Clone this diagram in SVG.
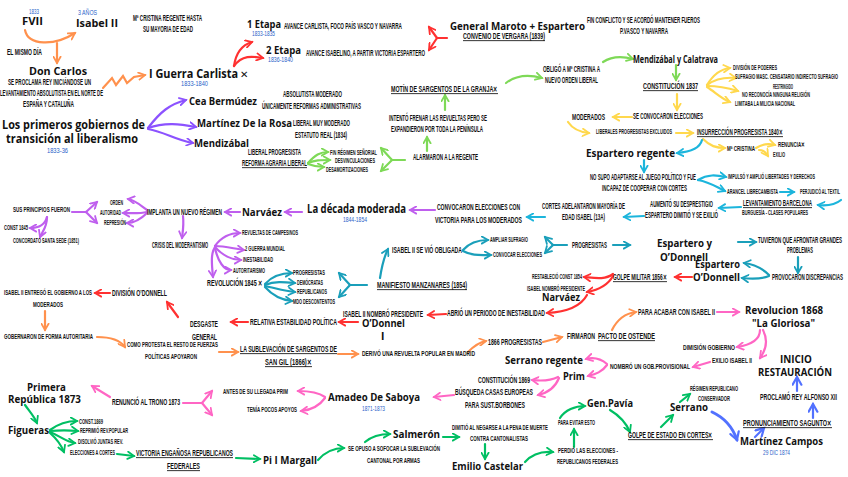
<svg xmlns="http://www.w3.org/2000/svg" width="848" height="477" viewBox="0 0 848 477">
<style>
text{font-family:"Liberation Sans",Arial,sans-serif;fill:#111}
.s{font-size:8.5px;font-weight:700}
.t{font-size:7px;font-weight:700}
.b{font-family:"Open Sans","DejaVu Sans",sans-serif;font-weight:700;font-size:11px}
.y{font-size:7px;fill:#2a62c9}
.u{text-decoration:underline}
.x{font-family:"DejaVu Sans",sans-serif;font-size:8px}
.c{fill:none;stroke-width:2.2;stroke-linecap:round}
.or{stroke:#ff914d}.pu{stroke:#8c52ff}.pl{stroke:#bf5fee}.rd{stroke:#ff3131}.gl{stroke:#7ed957}.gd{stroke:#00bf63}.ye{stroke:#ffd84d}.cy{stroke:#1cb5dc}.te{stroke:#1a9fba}.pk{stroke:#ff66c4}.bl{stroke:#5271ff}
</style>
<defs>
<marker id="mor" viewBox="0 0 10 10" refX="8" refY="5" markerWidth="9" markerHeight="9" markerUnits="userSpaceOnUse" orient="auto"><path d="M1,1 L8,5 L1,9" fill="none" stroke="#ff914d" stroke-width="2" stroke-linecap="round"/></marker>
<marker id="mpu" viewBox="0 0 10 10" refX="8" refY="5" markerWidth="9" markerHeight="9" markerUnits="userSpaceOnUse" orient="auto"><path d="M1,1 L8,5 L1,9" fill="none" stroke="#8c52ff" stroke-width="2" stroke-linecap="round"/></marker>
<marker id="mpl" viewBox="0 0 10 10" refX="8" refY="5" markerWidth="9" markerHeight="9" markerUnits="userSpaceOnUse" orient="auto"><path d="M1,1 L8,5 L1,9" fill="none" stroke="#bf5fee" stroke-width="2" stroke-linecap="round"/></marker>
<marker id="mrd" viewBox="0 0 10 10" refX="8" refY="5" markerWidth="9" markerHeight="9" markerUnits="userSpaceOnUse" orient="auto"><path d="M1,1 L8,5 L1,9" fill="none" stroke="#ff3131" stroke-width="2" stroke-linecap="round"/></marker>
<marker id="mgl" viewBox="0 0 10 10" refX="8" refY="5" markerWidth="9" markerHeight="9" markerUnits="userSpaceOnUse" orient="auto"><path d="M1,1 L8,5 L1,9" fill="none" stroke="#7ed957" stroke-width="2" stroke-linecap="round"/></marker>
<marker id="mgd" viewBox="0 0 10 10" refX="8" refY="5" markerWidth="9" markerHeight="9" markerUnits="userSpaceOnUse" orient="auto"><path d="M1,1 L8,5 L1,9" fill="none" stroke="#00bf63" stroke-width="2" stroke-linecap="round"/></marker>
<marker id="mye" viewBox="0 0 10 10" refX="8" refY="5" markerWidth="9" markerHeight="9" markerUnits="userSpaceOnUse" orient="auto"><path d="M1,1 L8,5 L1,9" fill="none" stroke="#ffd84d" stroke-width="2" stroke-linecap="round"/></marker>
<marker id="mcy" viewBox="0 0 10 10" refX="8" refY="5" markerWidth="9" markerHeight="9" markerUnits="userSpaceOnUse" orient="auto"><path d="M1,1 L8,5 L1,9" fill="none" stroke="#1cb5dc" stroke-width="2" stroke-linecap="round"/></marker>
<marker id="mte" viewBox="0 0 10 10" refX="8" refY="5" markerWidth="9" markerHeight="9" markerUnits="userSpaceOnUse" orient="auto"><path d="M1,1 L8,5 L1,9" fill="none" stroke="#1a9fba" stroke-width="2" stroke-linecap="round"/></marker>
<marker id="mpk" viewBox="0 0 10 10" refX="8" refY="5" markerWidth="9" markerHeight="9" markerUnits="userSpaceOnUse" orient="auto"><path d="M1,1 L8,5 L1,9" fill="none" stroke="#ff66c4" stroke-width="2" stroke-linecap="round"/></marker>
<marker id="mbl" viewBox="0 0 10 10" refX="8" refY="5" markerWidth="11" markerHeight="11" markerUnits="userSpaceOnUse" orient="auto"><path d="M1,1 L8,5 L1,9" fill="none" stroke="#5271ff" stroke-width="2" stroke-linecap="round"/></marker>
</defs>
<rect width="848" height="477" fill="#ffffff"/>

<g id="connectors">
<path class="c or" marker-end="url(#mor)" d="M25,30 C28,46 55,46 75,33"/>
<path class="c or" marker-end="url(#mor)" d="M57,43 L57,63"/>
<path class="c or" marker-end="url(#mor)" d="M103,88 L112,78 L116,85 L123,76 L127,83 L134,77 L145,75"/>
<path class="c or" marker-end="url(#mor)" d="M45,311 L45,330"/>
<path class="c or" marker-end="url(#mor)" d="M97,337 C110,337 120,340 125,347"/>
<path class="c or" marker-end="url(#mor)" d="M219,352 L238,352"/>
<path class="c or" marker-end="url(#mor)" d="M338,354 L358,354"/>
<path class="c or" marker-end="url(#mor)" d="M468,352 C475,345 480,342 486,341"/>
<path class="c or" marker-end="url(#mor)" d="M543,342 L562,337"/>
<path class="c or" marker-end="url(#mor)" d="M612,330 C618,318 628,313 636,312"/>
<path class="c pu" marker-end="url(#mpu)" d="M148,128 C160,112 170,104 186,100"/>
<path class="c pu" marker-end="url(#mpu)" d="M148,128 C165,122 180,124 196,127"/>
<path class="c pu" marker-end="url(#mpu)" d="M148,129 C165,132 175,140 193,143"/>
<path class="c pl" marker-end="url(#mpl)" d="M435,210 L410,210"/>
<path class="c pl" marker-end="url(#mpl)" d="M302,212 L285,212"/>
<path class="c pl" marker-end="url(#mpl)" d="M240,212 L225,212"/>
<path class="c pl" marker-end="url(#mpl)" d="M147,210 C140,205 135,200 128,199"/>
<path class="c pl" marker-end="url(#mpl)" d="M147,212 C138,214 130,213 123,213"/>
<path class="c pl" marker-end="url(#mpl)" d="M147,213 C140,220 134,223 127,223"/>
<path class="c pl" d="M72,212 L86,212"/>
<path class="c pl" marker-end="url(#mpl)" d="M86,212 L97,202"/>
<path class="c pl" marker-end="url(#mpl)" d="M86,212 L97,223"/>
<path class="c pl" marker-end="url(#mpl)" d="M47,217 C45,225 38,228 30,228"/>
<path class="c pl" marker-end="url(#mpl)" d="M47,217 C47,228 42,232 40,237"/>
<path class="c pl" marker-end="url(#mpl)" d="M183,216 C184,225 183,230 182,238"/>
<path class="c pl" marker-end="url(#mpl)" d="M215,246 C222,236 230,233 240,233"/>
<path class="c pl" marker-end="url(#mpl)" d="M215,246 C225,246 235,249 244,250"/>
<path class="c pl" marker-end="url(#mpl)" d="M215,247 C222,255 232,260 241,260"/>
<path class="c pl" marker-end="url(#mpl)" d="M215,248 C218,262 224,270 231,270"/>
<path class="c pl" marker-end="url(#mpl)" d="M216,246 C210,252 212,266 213,277"/>
<path class="c rd" marker-end="url(#mrd)" d="M234,66 C236,52 242,45 252,42"/>
<path class="c rd" marker-end="url(#mrd)" d="M234,66 C242,55 252,56 263,58"/>
<path class="c rd" d="M447,38 L437,38"/>
<path class="c rd" marker-end="url(#mrd)" d="M437,38 L429,27"/>
<path class="c rd" marker-end="url(#mrd)" d="M437,38 L429,50"/>
<path class="c rd" marker-end="url(#mrd)" d="M692,277 L675,277"/>
<path class="c rd" marker-end="url(#mrd)" d="M613,274 C605,280 595,278 584,277"/>
<path class="c rd" marker-end="url(#mrd)" d="M613,276 C608,285 598,290 587,292"/>
<path class="c rd" marker-end="url(#mrd)" d="M587,295 C580,308 565,312 547,313"/>
<path class="c rd" marker-end="url(#mrd)" d="M446,314 L428,315"/>
<path class="c rd" marker-end="url(#mrd)" d="M358,322 L339,322"/>
<path class="c rd" marker-end="url(#mrd)" d="M248,322 L231,322"/>
<path class="c rd" marker-end="url(#mrd)" d="M178,317 L167,302"/>
<path class="c rd" marker-end="url(#mrd)" d="M110,293 L95,293"/>
<path class="c gl" marker-end="url(#mgl)" d="M308,163 C315,155 320,152 328,152"/>
<path class="c gl" marker-end="url(#mgl)" d="M308,163 C315,160 320,160 330,160"/>
<path class="c gl" marker-end="url(#mgl)" d="M308,164 C313,166 318,167 324,167"/>
<path class="c gl" d="M405,160 L392,160"/>
<path class="c gl" marker-end="url(#mgl)" d="M392,160 L381,148"/>
<path class="c gl" marker-end="url(#mgl)" d="M392,160 L381,171"/>
<path class="c gl" marker-end="url(#mgl)" d="M427,151 L427,137"/>
<path class="c gl" marker-end="url(#mgl)" d="M445,110 L445,95"/>
<path class="c gl" marker-end="url(#mgl)" d="M506,83 C515,76 528,74 542,78"/>
<path class="c gl" marker-end="url(#mgl)" d="M603,62 C612,56 622,56 633,59"/>
<path class="c gl" marker-end="url(#mgl)" d="M676,65 L676,80"/>
<path class="c gd" marker-end="url(#mgd)" d="M25,405 C30,412 34,416 37,423"/>
<path class="c gd" marker-end="url(#mgd)" d="M50,430 C58,424 66,421 77,421"/>
<path class="c gd" marker-end="url(#mgd)" d="M50,431 C60,430 68,430 78,431"/>
<path class="c gd" marker-end="url(#mgd)" d="M50,432 C60,436 66,442 75,443"/>
<path class="c gd" marker-end="url(#mgd)" d="M50,433 C58,440 62,447 64,452"/>
<path class="c gd" marker-end="url(#mgd)" d="M117,454 L134,456"/>
<path class="c gd" marker-end="url(#mgd)" d="M236,458 L260,459"/>
<path class="c gd" marker-end="url(#mgd)" d="M318,460 C325,452 333,448 344,448"/>
<path class="c gd" marker-end="url(#mgd)" d="M365,442 C372,436 380,434 390,434"/>
<path class="c gd" marker-end="url(#mgd)" d="M443,437 L459,437"/>
<path class="c gd" marker-end="url(#mgd)" d="M485,444 L485,459"/>
<path class="c gd" marker-end="url(#mgd)" d="M525,462 C532,454 542,451 553,452"/>
<path class="c gd" marker-end="url(#mgd)" d="M574,447 L574,429"/>
<path class="c gd" marker-end="url(#mgd)" d="M560,418 C565,410 575,406 585,406"/>
<path class="c gd" marker-end="url(#mgd)" d="M610,410 C620,416 627,425 630,432"/>
<path class="c gd" marker-end="url(#mgd)" d="M661,427 L673,415"/>
<path class="c gd" marker-end="url(#mgd)" d="M680,402 L690,394"/>
<path class="c ye" marker-end="url(#mye)" d="M707,85 C713,75 720,69 730,68"/>
<path class="c ye" marker-end="url(#mye)" d="M707,85 C715,79 725,77 736,78"/>
<path class="c ye" marker-end="url(#mye)" d="M707,86 C718,86 728,88 738,91"/>
<path class="c ye" marker-end="url(#mye)" d="M707,87 C715,92 722,99 730,102"/>
<path class="c ye" marker-end="url(#mye)" d="M677,94 L677,110"/>
<path class="c ye" marker-end="url(#mye)" d="M632,117 L613,117"/>
<path class="c ye" marker-end="url(#mye)" d="M568,122 C572,128 578,132 589,133"/>
<path class="c ye" marker-end="url(#mye)" d="M676,133 L693,133"/>
<path class="c ye" marker-end="url(#mye)" d="M703,139 C710,146 716,148 725,148"/>
<path class="c ye" marker-end="url(#mye)" d="M756,148 C762,144 768,143 775,145"/>
<path class="c ye" marker-end="url(#mye)" d="M759,150 C764,150 766,153 768,156"/>
<path class="c cy" marker-end="url(#mcy)" d="M702,140 C700,148 690,152 677,153"/>
<path class="c cy" marker-end="url(#mcy)" d="M644,160 L644,172"/>
<path class="c cy" marker-end="url(#mcy)" d="M698,180 C708,174 716,175 726,177"/>
<path class="c cy" marker-end="url(#mcy)" d="M698,180 C710,182 718,188 725,191"/>
<path class="c cy" marker-end="url(#mcy)" d="M780,192 L794,192"/>
<path class="c cy" marker-end="url(#mcy)" d="M841,200 C835,205 828,206 818,205"/>
<path class="c cy" marker-end="url(#mcy)" d="M741,207 L719,208"/>
<path class="c cy" marker-end="url(#mcy)" d="M644,216 L624,217"/>
<path class="c cy" marker-end="url(#mcy)" d="M545,217 L527,217"/>
<path class="c te" marker-end="url(#mte)" d="M265,284 C272,276 280,273 292,273"/>
<path class="c te" marker-end="url(#mte)" d="M265,285 C275,281 284,282 295,283"/>
<path class="c te" marker-end="url(#mte)" d="M265,286 C275,288 285,291 295,292"/>
<path class="c te" marker-end="url(#mte)" d="M265,287 C272,295 282,300 292,301"/>
<path class="c te" d="M367,285 L350,285"/>
<path class="c te" marker-end="url(#mte)" d="M350,285 L339,273"/>
<path class="c te" marker-end="url(#mte)" d="M350,285 L339,297"/>
<path class="c te" marker-end="url(#mte)" d="M380,278 C382,265 384,257 388,249"/>
<path class="c te" marker-end="url(#mte)" d="M463,250 C470,242 478,240 488,240"/>
<path class="c te" marker-end="url(#mte)" d="M463,251 C472,256 480,255 491,255"/>
<path class="c te" d="M567,245 L553,245"/>
<path class="c te" marker-end="url(#mte)" d="M553,245 L545,237"/>
<path class="c te" marker-end="url(#mte)" d="M553,245 L545,253"/>
<path class="c te" marker-end="url(#mte)" d="M613,245 L630,245"/>
<path class="c te" marker-end="url(#mte)" d="M738,242 L756,242"/>
<path class="c te" marker-end="url(#mte)" d="M798,257 L798,273"/>
<path class="c te" marker-end="url(#mte)" d="M769,275 C762,268 752,264 744,263"/>
<path class="c te" marker-end="url(#mte)" d="M769,276 C762,279 752,279 742,278"/>
<path class="c pk" marker-end="url(#mpk)" d="M717,312 L739,312"/>
<path class="c pk" marker-end="url(#mpk)" d="M760,330 C760,340 750,345 737,347"/>
<path class="c pk" marker-end="url(#mpk)" d="M763,330 C768,340 766,350 760,358"/>
<path class="c pk" marker-end="url(#mpk)" d="M710,362 L693,367"/>
<path class="c pk" marker-end="url(#mpk)" d="M607,364 C600,358 594,357 586,359"/>
<path class="c pk" marker-end="url(#mpk)" d="M607,365 C602,372 596,374 588,376"/>
<path class="c pk" marker-end="url(#mpk)" d="M558,377 C550,381 541,381 532,380"/>
<path class="c pk" marker-end="url(#mpk)" d="M559,378 C555,388 547,393 538,395"/>
<path class="c pk" marker-end="url(#mpk)" d="M454,395 L434,397"/>
<path class="c pk" marker-end="url(#mpk)" d="M325,397 C318,392 308,391 298,391"/>
<path class="c pk" marker-end="url(#mpk)" d="M325,398 C320,405 312,410 301,411"/>
<path class="c pk" d="M183,403 L202,403"/>
<path class="c pk" marker-end="url(#mpk)" d="M202,403 L212,391"/>
<path class="c pk" marker-end="url(#mpk)" d="M202,403 L212,415"/>
<path class="c pk" marker-end="url(#mpk)" d="M110,397 L92,386"/>
<path class="c bl" style="stroke-width:3" marker-end="url(#mbl)" d="M712,412 C725,418 733,428 737,440"/>
<path class="c bl" marker-end="url(#mbl)" d="M755,437 L764,428"/>
<path class="c bl" marker-end="url(#mbl)" d="M813,418 L813,404"/>
<path class="c bl" marker-end="url(#mbl)" d="M797,391 L797,377"/>
</g>

<g id="n-fvii"><text class="y" x="29" y="14" textLength="10" lengthAdjust="spacingAndGlyphs">1833</text><text class="b" x="22" y="25" transform="matrix(.8 0 0 1 4.4 0)" textLength="26.25" lengthAdjust="spacingAndGlyphs">FVII</text></g>
<g id="n-isabel"><text class="y" x="78" y="15" textLength="19" lengthAdjust="spacingAndGlyphs">3 AÑOS</text><text class="b" x="76" y="27" transform="matrix(.8 0 0 1 15.2 0)" textLength="52.5" lengthAdjust="spacingAndGlyphs">Isabel II</text></g>
<g id="n-cristina"><text class="s" x="133" y="21" transform="matrix(.5 0 0 1 66.5 0)" textLength="138" lengthAdjust="spacingAndGlyphs">Mª CRISTINA REGENTE HASTA</text><text class="s" x="143" y="32" transform="matrix(.5 0 0 1 71.5 0)" textLength="100" lengthAdjust="spacingAndGlyphs">SU MAYORIA DE EDAD</text></g>
<g id="n-mismo"><text class="s" x="7" y="55" transform="matrix(.5 0 0 1 3.5 0)" textLength="70" lengthAdjust="spacingAndGlyphs">EL MISMO DÍA</text></g>
<g id="n-carlos"><text class="b" x="29" y="75" transform="matrix(.8 0 0 1 5.8 0)" textLength="72.5" lengthAdjust="spacingAndGlyphs">Don Carlos</text>
<text class="s" x="8" y="85" transform="matrix(.5 0 0 1 4 0)" textLength="166" lengthAdjust="spacingAndGlyphs">SE PROCLAMA REY INICIÁNDOSE UN</text>
<text class="s" x="0" y="96" transform="matrix(.5 0 0 1 0 0)" textLength="206" lengthAdjust="spacingAndGlyphs">LEVANTAMIENTO ABSOLUTISTA EN EL NORTE DE</text>
<text class="s" x="23" y="107" transform="matrix(.5 0 0 1 11.5 0)" textLength="102" lengthAdjust="spacingAndGlyphs">ESPAÑA Y CATALUÑA</text></g>
<g id="n-guerra"><text class="b" style="font-size:12.5px" x="149" y="78" transform="matrix(.8 0 0 1 29.8 0)" textLength="111.25" lengthAdjust="spacingAndGlyphs">I Guerra Carlista</text><text class="x" style="font-size:10px" x="240" y="78">✕</text><text class="y" x="181" y="86" textLength="27" lengthAdjust="spacingAndGlyphs">1833-1840</text></g>
<g id="n-etapa1"><text class="b" x="247" y="28" transform="matrix(.8 0 0 1 49.4 0)" textLength="42.5" lengthAdjust="spacingAndGlyphs">1 Etapa</text><text class="y" x="252" y="36" textLength="23" lengthAdjust="spacingAndGlyphs">1833-1835</text><text class="s" x="284" y="29" transform="matrix(.5 0 0 1 142 0)" textLength="236" lengthAdjust="spacingAndGlyphs">AVANCE CARLISTA, FOCO  PAÍS VASCO Y NAVARRA</text></g>
<g id="n-etapa2"><text class="b" x="266" y="54" transform="matrix(.8 0 0 1 53.2 0)" textLength="43.75" lengthAdjust="spacingAndGlyphs">2 Etapa</text><text class="y" x="268" y="62" textLength="25" lengthAdjust="spacingAndGlyphs">1836-1840</text><text class="s" x="306" y="56" transform="matrix(.5 0 0 1 153 0)" textLength="238" lengthAdjust="spacingAndGlyphs">AVANCE ISABELINO, A PARTIR VICTORIA ESPARTERO</text></g>
<g id="n-maroto"><text class="b" x="450" y="30" transform="matrix(.8 0 0 1 90 0)" textLength="168.75" lengthAdjust="spacingAndGlyphs">General Maroto + Espartero</text><text class="s u" x="463" y="39" transform="matrix(.5 0 0 1 231.5 0)" textLength="164" lengthAdjust="spacingAndGlyphs">CONVENIO DE VERGARA (1839)</text></g>
<g id="n-fin"><text class="s" x="587" y="23" transform="matrix(.5 0 0 1 293.5 0)" textLength="226" lengthAdjust="spacingAndGlyphs">FIN CONFLICTO Y SE ACORDÓ MANTENER FUEROS</text><text class="s" x="620" y="34" transform="matrix(.5 0 0 1 310 0)" textLength="96" lengthAdjust="spacingAndGlyphs">P.VASCO Y NAVARRA</text></g>
<g id="n-primeros"><text class="b" style="font-size:13px" x="2" y="129" transform="matrix(.8 0 0 1 .4 0)" textLength="178.75" lengthAdjust="spacingAndGlyphs">Los primeros gobiernos de</text><text class="b" style="font-size:13px" x="6" y="143" transform="matrix(.8 0 0 1 1.2 0)" textLength="165" lengthAdjust="spacingAndGlyphs">transición al liberalismo</text><text class="y" x="47" y="153" textLength="21" lengthAdjust="spacingAndGlyphs">1833-36</text></g>
<g id="n-cea"><text class="b" x="189" y="105" transform="matrix(.8 0 0 1 37.8 0)" textLength="85" lengthAdjust="spacingAndGlyphs">Cea Bermúdez</text><text class="s" x="283" y="97" transform="matrix(.5 0 0 1 141.5 0)" textLength="118" lengthAdjust="spacingAndGlyphs">ABSOLUTISTA MODERADO</text><text class="s" x="262" y="109" transform="matrix(.5 0 0 1 131 0)" textLength="198" lengthAdjust="spacingAndGlyphs">ÚNICAMENTE REFORMAS ADMINISTRATIVAS</text></g>
<g id="n-martinez"><text class="b" x="197" y="127" transform="matrix(.8 0 0 1 39.4 0)" textLength="118.75" lengthAdjust="spacingAndGlyphs">Martínez De la Rosa</text><text class="s" x="293" y="126" transform="matrix(.5 0 0 1 146.5 0)" textLength="114" lengthAdjust="spacingAndGlyphs">LIBERAL MUY MODERADO</text><text class="s" x="295" y="138" transform="matrix(.5 0 0 1 147.5 0)" textLength="104" lengthAdjust="spacingAndGlyphs">ESTATUTO REAL (1834)</text></g>
<g id="n-mendizabal"><text class="b" x="194" y="147" transform="matrix(.8 0 0 1 38.8 0)" textLength="68.75" lengthAdjust="spacingAndGlyphs">Mendizábal</text><text class="s" x="248" y="155" transform="matrix(.5 0 0 1 124 0)" textLength="106" lengthAdjust="spacingAndGlyphs">LIBERAL PROGRESISTA</text><text class="s u" x="242" y="166" transform="matrix(.5 0 0 1 121 0)" textLength="130" lengthAdjust="spacingAndGlyphs">REFORMA AGRARIA LIBERAL</text></g>
<g id="n-reforma"><text class="t" x="330" y="155" transform="matrix(.5 0 0 1 165 0)" textLength="94" lengthAdjust="spacingAndGlyphs">FIN RÉGIMEN SEÑORIAL</text><text class="t" x="335" y="163" transform="matrix(.5 0 0 1 167.5 0)" textLength="80" lengthAdjust="spacingAndGlyphs">DESVINCULACIONES</text><text class="t" x="326" y="172" transform="matrix(.5 0 0 1 163 0)" textLength="84" lengthAdjust="spacingAndGlyphs">DESAMORTIZACIONES</text></g>
<g id="n-alarmaron"><text class="s" x="413" y="160" transform="matrix(.5 0 0 1 206.5 0)" textLength="130" lengthAdjust="spacingAndGlyphs">ALARMARON A LA REGENTE</text></g>
<g id="n-intento"><text class="s" x="389" y="121" transform="matrix(.5 0 0 1 194.5 0)" textLength="196" lengthAdjust="spacingAndGlyphs">INTENTÓ FRENAR LAS REVUELTAS PERO SE</text><text class="s" x="391" y="132" transform="matrix(.5 0 0 1 195.5 0)" textLength="184" lengthAdjust="spacingAndGlyphs">EXPANDIERON POR TODA LA PENÍNSULA</text></g>
<g id="n-motin"><text class="s u" x="391" y="92" transform="matrix(.5 0 0 1 195.5 0)" textLength="214" lengthAdjust="spacingAndGlyphs">MOTÍN DE SARGENTOS DE LA GRANJA✕</text></g>
<g id="n-obligo"><text class="s" x="543" y="72" transform="matrix(.5 0 0 1 271.5 0)" textLength="114" lengthAdjust="spacingAndGlyphs">OBLIGÓ A Mª CRISTINA A</text><text class="s" x="545" y="83" transform="matrix(.5 0 0 1 272.5 0)" textLength="106" lengthAdjust="spacingAndGlyphs">NUEVO ORDEN LIBERAL</text></g>
<g id="n-calatrava"><text class="b" style="font-size:10px" x="633" y="63" transform="matrix(.8 0 0 1 126.6 0)" textLength="106.25" lengthAdjust="spacingAndGlyphs">Mendizábal y Calatrava</text></g>
<g id="n-const1837"><text class="s u" x="643" y="89" transform="matrix(.5 0 0 1 321.5 0)" textLength="110" lengthAdjust="spacingAndGlyphs">CONSTITUCIÓN 1837</text></g>
<g id="n-const1837-items"><text class="t" x="733" y="70" transform="matrix(.5 0 0 1 366.5 0)" textLength="88" lengthAdjust="spacingAndGlyphs">DIVISIÓN DE PODERES</text><text class="t" x="735" y="79" transform="matrix(.5 0 0 1 367.5 0)" textLength="206" lengthAdjust="spacingAndGlyphs">SUFRAGIO MASC. CENSATARIO INDIRECTO  SUFRAGIO</text><text class="t" x="773" y="89" transform="matrix(.5 0 0 1 386.5 0)" textLength="40" lengthAdjust="spacingAndGlyphs">RESTRINGIDO</text><text class="t" x="742" y="97" transform="matrix(.5 0 0 1 371 0)" textLength="136" lengthAdjust="spacingAndGlyphs">NO RECONOCÍA NINGUNA RELIGIÓN</text><text class="t" x="735" y="106" transform="matrix(.5 0 0 1 367.5 0)" textLength="120" lengthAdjust="spacingAndGlyphs">LIMITABA LA MILICIA NACIONAL</text></g>
<g id="n-convocaron1"><text class="s" x="633" y="119" transform="matrix(.5 0 0 1 316.5 0)" textLength="140" lengthAdjust="spacingAndGlyphs">SE CONVOCARON ELECCIONES</text></g>
<g id="n-moderados"><text class="s" x="572" y="120" transform="matrix(.5 0 0 1 286 0)" textLength="66" lengthAdjust="spacingAndGlyphs">MODERADOS</text></g>
<g id="n-excluidos"><text class="t" x="596" y="134" transform="matrix(.5 0 0 1 298 0)" textLength="152" lengthAdjust="spacingAndGlyphs">LIBERALES PROGRESISTAS EXCLUIDOS</text></g>
<g id="n-insurreccion"><text class="s u" x="697" y="135" transform="matrix(.5 0 0 1 348.5 0)" textLength="172" lengthAdjust="spacingAndGlyphs">INSURRECCIÓN PROGRESISTA 1840✕</text></g>
<g id="n-mcristina"><text class="t" x="727" y="151" transform="matrix(.5 0 0 1 363.5 0)" textLength="56" lengthAdjust="spacingAndGlyphs">Mª CRISTINA</text><text class="t" x="778" y="147" transform="matrix(.5 0 0 1 389 0)" textLength="54" lengthAdjust="spacingAndGlyphs">RENUNCIA✕</text><text class="t" x="773" y="157" transform="matrix(.5 0 0 1 386.5 0)" textLength="24" lengthAdjust="spacingAndGlyphs">EXILIO</text></g>
<g id="n-esp-regente"><text class="b" x="586" y="157" transform="matrix(.8 0 0 1 117.2 0)" textLength="111.25" lengthAdjust="spacingAndGlyphs">Espartero regente</text></g>
<g id="n-nosupo"><text class="s" x="590" y="180" transform="matrix(.5 0 0 1 295 0)" textLength="212" lengthAdjust="spacingAndGlyphs">NO SUPO ADAPTARSE AL JUEGO POLÍTICO Y FUE</text><text class="s" x="602" y="191" transform="matrix(.5 0 0 1 301 0)" textLength="170" lengthAdjust="spacingAndGlyphs">INCAPAZ DE COOPERAR CON CORTES</text></g>
<g id="n-impulso"><text class="t" x="728" y="179" transform="matrix(.5 0 0 1 364 0)" textLength="174" lengthAdjust="spacingAndGlyphs">IMPULSÓ Y AMPLIÓ LIBERTADES Y DERECHOS</text></g>
<g id="n-arancel"><text class="t" x="727" y="194" transform="matrix(.5 0 0 1 363.5 0)" textLength="102" lengthAdjust="spacingAndGlyphs">ARANCEL LIBRECAMBISTA</text></g>
<g id="n-perjudico"><text class="t" x="800" y="194" transform="matrix(.5 0 0 1 400 0)" textLength="80" lengthAdjust="spacingAndGlyphs">PERJUDICÓ AL TEXTIL</text></g>
<g id="n-barcelona"><text class="s u" x="743" y="206" transform="matrix(.5 0 0 1 371.5 0)" textLength="138" lengthAdjust="spacingAndGlyphs">LEVANTAMIENTO BARCELONA</text><text class="t" x="742" y="215" transform="matrix(.5 0 0 1 371 0)" textLength="132" lengthAdjust="spacingAndGlyphs">BURGUESÍA - CLASES POPULARES</text></g>
<g id="n-aumento"><text class="s" x="650" y="207" transform="matrix(.5 0 0 1 325 0)" textLength="126" lengthAdjust="spacingAndGlyphs">AUMENTÓ SU DESPRESTIGIO</text><text class="s" x="645" y="218" transform="matrix(.5 0 0 1 322.5 0)" textLength="146" lengthAdjust="spacingAndGlyphs">ESPARTERO DIMITIÓ Y SE EXILIÓ</text></g>
<g id="n-cortes"><text class="s" x="542" y="209" transform="matrix(.5 0 0 1 271 0)" textLength="166" lengthAdjust="spacingAndGlyphs">CORTES ADELANTARON MAYORÍA DE</text><text class="s" x="562" y="220" transform="matrix(.5 0 0 1 281 0)" textLength="86" lengthAdjust="spacingAndGlyphs">EDAD ISABEL (13A)</text></g>
<g id="n-convocaron2"><text class="s" x="437" y="210" transform="matrix(.5 0 0 1 218.5 0)" textLength="166" lengthAdjust="spacingAndGlyphs">CONVOCARON ELECCIONES CON</text><text class="s" x="435" y="223" transform="matrix(.5 0 0 1 217.5 0)" textLength="174" lengthAdjust="spacingAndGlyphs">VICTORIA PARA LOS MODERADOS</text></g>
<g id="n-decada"><text class="b" style="font-size:12px" x="307" y="213" transform="matrix(.8 0 0 1 61.4 0)" textLength="123.75" lengthAdjust="spacingAndGlyphs">La década moderada</text><text class="y" x="343" y="222" textLength="24" lengthAdjust="spacingAndGlyphs">1844-1854</text></g>
<g id="n-narvaez"><text class="b" x="242" y="216" transform="matrix(.8 0 0 1 48.4 0)" textLength="50" lengthAdjust="spacingAndGlyphs">Narváez</text></g>
<g id="n-implanta"><text class="s" x="147" y="215" transform="matrix(.5 0 0 1 73.5 0)" textLength="150" lengthAdjust="spacingAndGlyphs">IMPLANTA UN NUEVO RÉGIMEN</text></g>
<g id="n-orden"><text class="t" x="110" y="205" transform="matrix(.5 0 0 1 55 0)" textLength="26" lengthAdjust="spacingAndGlyphs">ORDEN</text><text class="t" x="100" y="215" transform="matrix(.5 0 0 1 50 0)" textLength="42" lengthAdjust="spacingAndGlyphs">AUTORIDAD</text><text class="t" x="104" y="225" transform="matrix(.5 0 0 1 52 0)" textLength="44" lengthAdjust="spacingAndGlyphs">REPRESIÓN</text></g>
<g id="n-principios"><text class="t" x="13" y="212" transform="matrix(.5 0 0 1 6.5 0)" textLength="114" lengthAdjust="spacingAndGlyphs">SUS PRINCIPIOS FUERON</text><text class="t" x="4" y="230" transform="matrix(.5 0 0 1 2 0)" textLength="48" lengthAdjust="spacingAndGlyphs">CONST 1845</text><text class="t" x="13" y="243" transform="matrix(.5 0 0 1 6.5 0)" textLength="132" lengthAdjust="spacingAndGlyphs">CONCORDATO SANTA SEDE (1851)</text></g>
<g id="n-crisis"><text class="s" x="152" y="248" transform="matrix(.5 0 0 1 76 0)" textLength="112" lengthAdjust="spacingAndGlyphs">CRISIS DEL MODERANTISMO</text></g>
<g id="n-crisis-items"><text class="t" x="242" y="235" transform="matrix(.5 0 0 1 121 0)" textLength="112" lengthAdjust="spacingAndGlyphs">REVUELTAS DE CAMPESINOS</text><text class="t" x="245" y="251" transform="matrix(.5 0 0 1 122.5 0)" textLength="80" lengthAdjust="spacingAndGlyphs">2 GUERRA MUNDIAL</text><text class="t" x="243" y="262" transform="matrix(.5 0 0 1 121.5 0)" textLength="60" lengthAdjust="spacingAndGlyphs">INESTABILIDAD</text><text class="t" x="233" y="273" transform="matrix(.5 0 0 1 116.5 0)" textLength="64" lengthAdjust="spacingAndGlyphs">AUTORITARISMO</text></g>
<g id="n-revolucion"><text class="s" x="207" y="286" transform="matrix(.5 0 0 1 103.5 0)" textLength="112" lengthAdjust="spacingAndGlyphs">REVOLUCIÓN 1845 ✕</text></g>
<g id="n-partidos"><text class="t" x="293" y="275" transform="matrix(.5 0 0 1 146.5 0)" textLength="64" lengthAdjust="spacingAndGlyphs">PROGRESISTAS</text><text class="t" x="297" y="285" transform="matrix(.5 0 0 1 148.5 0)" textLength="52" lengthAdjust="spacingAndGlyphs">DEMÓCRATAS</text><text class="t" x="297" y="294" transform="matrix(.5 0 0 1 148.5 0)" textLength="60" lengthAdjust="spacingAndGlyphs">REPUBLICANOS</text><text class="t" x="293" y="304" transform="matrix(.5 0 0 1 146.5 0)" textLength="84" lengthAdjust="spacingAndGlyphs">MDO DESCONTENTOS</text></g>
<g id="n-manifiesto"><text class="s u" x="377" y="288" transform="matrix(.5 0 0 1 188.5 0)" textLength="180" lengthAdjust="spacingAndGlyphs">MANIFIESTO MANZANARES (1854)</text></g>
<g id="n-obligada"><text class="s" x="392" y="253" transform="matrix(.5 0 0 1 196 0)" textLength="140" lengthAdjust="spacingAndGlyphs">ISABEL II SE VIÓ OBLIGADA</text></g>
<g id="n-ampliar"><text class="t" x="490" y="242" transform="matrix(.5 0 0 1 245 0)" textLength="76" lengthAdjust="spacingAndGlyphs">AMPLIAR SUFRAGIO</text><text class="t" x="493" y="257" transform="matrix(.5 0 0 1 246.5 0)" textLength="98" lengthAdjust="spacingAndGlyphs">CONVOCAR ELECCIONES</text></g>
<g id="n-progresistas"><text class="s" x="572" y="248" transform="matrix(.5 0 0 1 286 0)" textLength="70" lengthAdjust="spacingAndGlyphs">PROGRESISTAS</text></g>
<g id="n-esp-odonnell"><text class="b" x="657" y="247" transform="matrix(.8 0 0 1 131.4 0)" textLength="68.75" lengthAdjust="spacingAndGlyphs">Espartero y</text><text class="b" x="660" y="261" transform="matrix(.8 0 0 1 132 0)" textLength="60" lengthAdjust="spacingAndGlyphs">O’Donnell</text></g>
<g id="n-esp-odonnell2"><text class="b" x="695" y="268" transform="matrix(.8 0 0 1 139 0)" textLength="56.25" lengthAdjust="spacingAndGlyphs">Espartero</text><text class="b" x="693" y="281" transform="matrix(.8 0 0 1 138.6 0)" textLength="58.75" lengthAdjust="spacingAndGlyphs">O’Donnell</text></g>
<g id="n-tuvieron"><text class="s" x="758" y="243" transform="matrix(.5 0 0 1 379 0)" textLength="168" lengthAdjust="spacingAndGlyphs">TUVIERON QUE AFRONTAR GRANDES</text><text class="s" x="787" y="253" transform="matrix(.5 0 0 1 393.5 0)" textLength="52" lengthAdjust="spacingAndGlyphs">PROBLEMAS</text></g>
<g id="n-provocaron"><text class="s" x="772" y="280" transform="matrix(.5 0 0 1 386 0)" textLength="142" lengthAdjust="spacingAndGlyphs">PROVOCARON DISCREPANCIAS</text></g>
<g id="n-golpe1856"><text class="s u" x="613" y="280" transform="matrix(.5 0 0 1 306.5 0)" textLength="108" lengthAdjust="spacingAndGlyphs">GOLPE MILITAR 1856✕</text></g>
<g id="n-restablecio"><text class="t" x="532" y="279" transform="matrix(.5 0 0 1 266 0)" textLength="100" lengthAdjust="spacingAndGlyphs">RESTABLECIÓ CONST 1854</text></g>
<g id="n-narvaez2"><text class="t" x="527" y="291" transform="matrix(.5 0 0 1 263.5 0)" textLength="116" lengthAdjust="spacingAndGlyphs">ISABEL NOMBRÓ PRESIDENTE</text><text class="b" style="font-size:10px" x="542" y="301" transform="matrix(.8 0 0 1 108.4 0)" textLength="47.5" lengthAdjust="spacingAndGlyphs">Narváez</text></g>
<g id="n-abrio"><text class="s" x="447" y="316" transform="matrix(.5 0 0 1 223.5 0)" textLength="196" lengthAdjust="spacingAndGlyphs">ABRIÓ UN PERIODO DE INESTABILIDAD</text></g>
<g id="n-odonnel"><text class="s" x="343" y="317" transform="matrix(.5 0 0 1 171.5 0)" textLength="160" lengthAdjust="spacingAndGlyphs">ISABEL II NOMBRÓ PRESIDENTE</text><text class="b" x="362" y="327" transform="matrix(.8 0 0 1 72.4 0)" textLength="53.75" lengthAdjust="spacingAndGlyphs">O’Donnel</text><text class="b" x="381" y="340">l</text></g>
<g id="n-relativa"><text class="s" x="250" y="325" transform="matrix(.5 0 0 1 125 0)" textLength="174" lengthAdjust="spacingAndGlyphs">RELATIVA ESTABILIDAD POLÍTICA</text></g>
<g id="n-desgaste"><text class="s" x="190" y="327" transform="matrix(.5 0 0 1 95 0)" textLength="56" lengthAdjust="spacingAndGlyphs">DESGASTE</text><text class="s" x="192" y="340" transform="matrix(.5 0 0 1 96 0)" textLength="50" lengthAdjust="spacingAndGlyphs">GENERAL</text></g>
<g id="n-division"><text class="s" x="112" y="296" transform="matrix(.5 0 0 1 56 0)" textLength="110" lengthAdjust="spacingAndGlyphs">DIVISIÓN O’DONNELL</text></g>
<g id="n-entrego"><text class="t" x="4" y="295" transform="matrix(.5 0 0 1 2 0)" textLength="176" lengthAdjust="spacingAndGlyphs">ISABEL II ENTREGÓ EL GOBIERNO A LOS</text><text class="t" x="33" y="307" transform="matrix(.5 0 0 1 16.5 0)" textLength="60" lengthAdjust="spacingAndGlyphs">MODERADOS</text></g>
<g id="n-gobernaron"><text class="t" x="4" y="339" transform="matrix(.5 0 0 1 2 0)" textLength="178" lengthAdjust="spacingAndGlyphs">GOBERNARON DE FORMA AUTORITARIA</text></g>
<g id="n-protesta"><text class="t" x="127" y="347" transform="matrix(.5 0 0 1 63.5 0)" textLength="182" lengthAdjust="spacingAndGlyphs">COMO PROTESTA EL RESTO DE FUERZAS</text><text class="t" x="145" y="359" transform="matrix(.5 0 0 1 72.5 0)" textLength="104" lengthAdjust="spacingAndGlyphs">POLÍTICAS APOYARON</text></g>
<g id="n-sangil"><text class="s u" x="240" y="352" transform="matrix(.5 0 0 1 120 0)" textLength="194" lengthAdjust="spacingAndGlyphs">LA SUBLEVACIÓN DE SARGENTOS DE</text><text class="s u" x="265" y="365" transform="matrix(.5 0 0 1 132.5 0)" textLength="94" lengthAdjust="spacingAndGlyphs">SAN GIL (1866)✕</text></g>
<g id="n-derivo"><text class="t" x="362" y="356" transform="matrix(.5 0 0 1 181 0)" textLength="226" lengthAdjust="spacingAndGlyphs">DERIVÓ UNA REVUELTA POPULAR EN MADRID</text></g>
<g id="n-1866"><text class="s" x="488" y="345" transform="matrix(.5 0 0 1 244 0)" textLength="108" lengthAdjust="spacingAndGlyphs">1866 PROGRESISTAS</text></g>
<g id="n-ostende"><text class="s" x="567" y="339" transform="matrix(.5 0 0 1 283.5 0)" textLength="56" lengthAdjust="spacingAndGlyphs">FIRMARON</text><text class="s u" x="598" y="339" transform="matrix(.5 0 0 1 299 0)" textLength="114" lengthAdjust="spacingAndGlyphs">PACTO DE OSTENDE</text></g>
<g id="n-acabar"><text class="s" x="638" y="315" transform="matrix(.5 0 0 1 319 0)" textLength="154" lengthAdjust="spacingAndGlyphs">PARA ACABAR CON ISABEL II</text></g>
<g id="n-gloriosa"><text class="b" x="745" y="314" transform="matrix(.8 0 0 1 149 0)" textLength="97.5" lengthAdjust="spacingAndGlyphs">Revolucion 1868</text><text class="b" x="752" y="327" transform="matrix(.8 0 0 1 150.4 0)" textLength="78.75" lengthAdjust="spacingAndGlyphs">"La Gloriosa"</text></g>
<g id="n-dimision"><text class="t" x="683" y="350" transform="matrix(.5 0 0 1 341.5 0)" textLength="104" lengthAdjust="spacingAndGlyphs">DIMISIÓN GOBIERNO</text><text class="t" x="712" y="363" transform="matrix(.5 0 0 1 356 0)" textLength="80" lengthAdjust="spacingAndGlyphs">EXILIO ISABEL II</text></g>
<g id="n-provisional"><text class="t" x="610" y="369" transform="matrix(.5 0 0 1 305 0)" textLength="160" lengthAdjust="spacingAndGlyphs">NOMBRÓ UN GOB.PROVISIONAL</text></g>
<g id="n-serrano-regente"><text class="b" x="505" y="364" transform="matrix(.8 0 0 1 101 0)" textLength="97.5" lengthAdjust="spacingAndGlyphs">Serrano regente</text></g>
<g id="n-prim"><text class="b" x="563" y="380" transform="matrix(.8 0 0 1 112.6 0)" textLength="27.5" lengthAdjust="spacingAndGlyphs">Prim</text></g>
<g id="n-const1869"><text class="s" x="478" y="383" transform="matrix(.5 0 0 1 239 0)" textLength="104" lengthAdjust="spacingAndGlyphs">CONSTITUCIÓN 1869</text></g>
<g id="n-busqueda"><text class="s" x="455" y="395" transform="matrix(.5 0 0 1 227.5 0)" textLength="156" lengthAdjust="spacingAndGlyphs">BÚSQUEDA CASAS EUROPEAS</text><text class="s" x="465" y="408" transform="matrix(.5 0 0 1 232.5 0)" textLength="120" lengthAdjust="spacingAndGlyphs">PARA SUST.BORBONES</text></g>
<g id="n-amadeo"><text class="b" x="328" y="401" transform="matrix(.8 0 0 1 65.6 0)" textLength="115" lengthAdjust="spacingAndGlyphs">Amadeo De Saboya</text><text class="y" x="362" y="411" textLength="23" lengthAdjust="spacingAndGlyphs">1871-1873</text></g>
<g id="n-antes"><text class="t" x="223" y="394" transform="matrix(.5 0 0 1 111.5 0)" textLength="130" lengthAdjust="spacingAndGlyphs">ANTES DE SU LLEGADA PRIM</text><text class="t" x="247" y="412" transform="matrix(.5 0 0 1 123.5 0)" textLength="100" lengthAdjust="spacingAndGlyphs">TENÍA POCOS APOYOS</text></g>
<g id="n-renuncio"><text class="s" x="112" y="405" transform="matrix(.5 0 0 1 56 0)" textLength="136" lengthAdjust="spacingAndGlyphs">RENUNCIÓ AL TRONO 1873</text></g>
<g id="n-republica"><text class="b" x="27" y="391" transform="matrix(.8 0 0 1 5.4 0)" textLength="48.75" lengthAdjust="spacingAndGlyphs">Primera</text><text class="b" x="8" y="403" transform="matrix(.8 0 0 1 1.6 0)" textLength="91.25" lengthAdjust="spacingAndGlyphs">República 1873</text></g>
<g id="n-figueras"><text class="b" x="8" y="434" transform="matrix(.8 0 0 1 1.6 0)" textLength="51.25" lengthAdjust="spacingAndGlyphs">Figueras</text></g>
<g id="n-figueras-items"><text class="t" x="79" y="424" transform="matrix(.5 0 0 1 39.5 0)" textLength="48" lengthAdjust="spacingAndGlyphs">CONST.1869</text><text class="t" x="80" y="433" transform="matrix(.5 0 0 1 40 0)" textLength="96" lengthAdjust="spacingAndGlyphs">REPRIMIÓ REV.POPULAR</text><text class="t" x="78" y="444" transform="matrix(.5 0 0 1 39 0)" textLength="90" lengthAdjust="spacingAndGlyphs">DISOLVIÓ JUNTAS REV.</text><text class="t" x="70" y="455" transform="matrix(.5 0 0 1 35 0)" textLength="90" lengthAdjust="spacingAndGlyphs">ELECCIONES A CORTES</text></g>
<g id="n-victoria"><text class="s u" x="136" y="456" transform="matrix(.5 0 0 1 68 0)" textLength="194" lengthAdjust="spacingAndGlyphs">VICTORIA ENGAÑOSA REPUBLICANOS</text><text class="s u" x="167" y="469" transform="matrix(.5 0 0 1 83.5 0)" textLength="66" lengthAdjust="spacingAndGlyphs">FEDERALES</text></g>
<g id="n-pi"><text class="b" x="263" y="464" transform="matrix(.8 0 0 1 52.6 0)" textLength="67.5" lengthAdjust="spacingAndGlyphs">Pi I Margall</text></g>
<g id="n-opuso"><text class="t" x="348" y="451" transform="matrix(.5 0 0 1 174 0)" textLength="184" lengthAdjust="spacingAndGlyphs">SE OPUSO A SOFOCAR LA SUBLEVACIÓN</text><text class="t" x="367" y="463" transform="matrix(.5 0 0 1 183.5 0)" textLength="106" lengthAdjust="spacingAndGlyphs">CANTONAL POR ARMAS</text></g>
<g id="n-salmeron"><text class="b" x="393" y="438" transform="matrix(.8 0 0 1 78.6 0)" textLength="58.75" lengthAdjust="spacingAndGlyphs">Salmerón</text></g>
<g id="n-dimitio"><text class="t" x="452" y="430" transform="matrix(.5 0 0 1 226 0)" textLength="192" lengthAdjust="spacingAndGlyphs">DIMITIÓ AL NEGARSE A LA PENA DE MUERTE</text><text class="t" x="470" y="441" transform="matrix(.5 0 0 1 235 0)" textLength="116" lengthAdjust="spacingAndGlyphs">CONTRA CANTONALISTAS</text></g>
<g id="n-castelar"><text class="b" x="452" y="470" transform="matrix(.8 0 0 1 90.4 0)" textLength="88.75" lengthAdjust="spacingAndGlyphs">Emilio Castelar</text></g>
<g id="n-perdio"><text class="t" x="558" y="453" transform="matrix(.5 0 0 1 279 0)" textLength="120" lengthAdjust="spacingAndGlyphs">PERDIÓ LAS ELECCIONES -</text><text class="t" x="557" y="464" transform="matrix(.5 0 0 1 278.5 0)" textLength="122" lengthAdjust="spacingAndGlyphs">REPUBLICANOS FEDERALES</text></g>
<g id="n-evitar"><text class="t" x="558" y="425" transform="matrix(.5 0 0 1 279 0)" textLength="74" lengthAdjust="spacingAndGlyphs">PARA EVITAR ESTO</text></g>
<g id="n-pavia"><text class="b" x="587" y="407" transform="matrix(.8 0 0 1 117.4 0)" textLength="57.5" lengthAdjust="spacingAndGlyphs">Gen.Pavía</text></g>
<g id="n-golpe-cortes"><text class="s u" x="628" y="438" transform="matrix(.5 0 0 1 314 0)" textLength="170" lengthAdjust="spacingAndGlyphs">GOLPE DE ESTADO EN CORTES✕</text></g>
<g id="n-serrano"><text class="b" x="670" y="411" transform="matrix(.8 0 0 1 134 0)" textLength="47.5" lengthAdjust="spacingAndGlyphs">Serrano</text><text class="t" x="690" y="391" transform="matrix(.5 0 0 1 345 0)" textLength="96" lengthAdjust="spacingAndGlyphs">RÉGIMEN REPUBLICANO</text><text class="t" x="698" y="401" transform="matrix(.5 0 0 1 349 0)" textLength="64" lengthAdjust="spacingAndGlyphs">CONSERVADOR</text></g>
<g id="n-campos"><text class="b" x="740" y="445" transform="matrix(.8 0 0 1 148 0)" textLength="103.75" lengthAdjust="spacingAndGlyphs">Martínez Campos</text><text class="y" x="763" y="455" textLength="27" lengthAdjust="spacingAndGlyphs">29 DIC 1874</text></g>
<g id="n-sagunto"><text class="s u" x="743" y="426" transform="matrix(.5 0 0 1 371.5 0)" textLength="178" lengthAdjust="spacingAndGlyphs">PRONUNCIAMIENTO SAGUNTO✕</text></g>
<g id="n-alfonso"><text class="s" x="760" y="400" transform="matrix(.5 0 0 1 380 0)" textLength="154" lengthAdjust="spacingAndGlyphs">PROCLAMÓ REY ALFONSO XII</text></g>
<g id="n-restauracion"><text class="b" x="780" y="363" transform="matrix(.8 0 0 1 156 0)" textLength="40" lengthAdjust="spacingAndGlyphs">INICIO</text><text class="b" x="758" y="376" transform="matrix(.8 0 0 1 151.6 0)" textLength="92.5" lengthAdjust="spacingAndGlyphs">RESTAURACIÓN</text></g>
</svg>
